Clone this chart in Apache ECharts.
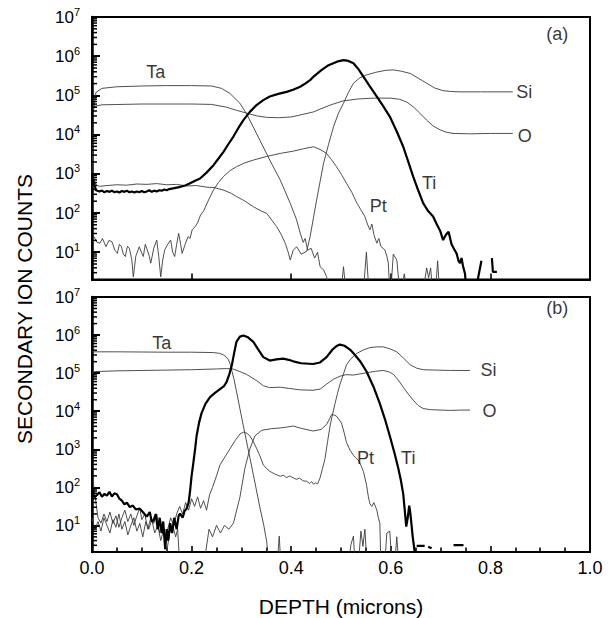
<!DOCTYPE html>
<html><head><meta charset="utf-8">
<script src="https://cdn.jsdelivr.net/npm/echarts@6/dist/echarts.min.js"></script>
<style>html,body{margin:0;padding:0;background:#fff}#c{width:616px;height:618px}</style>
</head><body><div id="c"></div>
<script>
// All curve data: [depth (microns), log10(secondary ion counts)].
// A value of 0 (1 count) lies below the axis floor (2 counts) and is clipped; null = gap.

// ---------- panel (a) ----------
const taA = [[0.000,3.0],[0.003,4.6],[0.008,5.08],[0.02,5.18],[0.05,5.22],[0.10,5.24],[0.15,5.25],[0.20,5.25],[0.24,5.24],[0.26,5.18],[0.277,5.05],[0.297,4.80],[0.31,4.54],[0.337,3.86],[0.357,3.35],[0.378,2.84],[0.398,2.25],[0.411,1.82],[0.418,1.49],[0.424,1.25],[0.428,1.35],[0.433,1.05],[0.44,1.1],[0.447,0.85],[0.453,1.0],[0.458,0.63],[0.465,0.55],[0.471,0.375],[0.476,0.1],[0.50,0],[0.505,0.63],[0.51,0],[0.545,0],[0.551,1.0],[0.556,0],[0.60,0],[0.605,0.95],[0.612,0.8],[0.618,0],[0.622,0],[0.627,0.45],[0.633,0],[0.665,0],[0.672,0.6],[0.676,0.35],[0.68,0.6],[0.684,0],[0.69,0],[0.694,0.78],[0.698,0]];
const oA = [[0.0,4.60],[0.005,4.72],[0.02,4.76],[0.1,4.78],[0.2,4.78],[0.24,4.77],[0.27,4.70],[0.29,4.62],[0.31,4.55],[0.33,4.48],[0.35,4.44],[0.375,4.43],[0.40,4.45],[0.418,4.50],[0.445,4.58],[0.458,4.65],[0.48,4.76],[0.504,4.86],[0.535,4.91],[0.565,4.93],[0.60,4.93],[0.618,4.90],[0.632,4.83],[0.645,4.71],[0.658,4.55],[0.672,4.37],[0.685,4.22],[0.699,4.12],[0.712,4.06],[0.725,4.03],[0.76,4.02],[0.80,4.03],[0.845,4.03]];
const siA = [[0.0,3.0],[0.004,2.85],[0.008,2.72],[0.015,2.68],[0.03,2.70],[0.05,2.72],[0.07,2.71],[0.09,2.74],[0.11,2.73],[0.13,2.75],[0.15,2.72],[0.17,2.73],[0.19,2.69],[0.21,2.70],[0.23,2.66],[0.245,2.65],[0.265,2.58],[0.28,2.50],[0.29,2.42],[0.305,2.32],[0.324,2.16],[0.34,2.05],[0.351,1.99],[0.362,1.80],[0.371,1.65],[0.38,1.45],[0.388,1.23],[0.394,1.0],[0.398,0.80],[0.404,1.05],[0.411,1.14],[0.42,0.95],[0.431,1.02],[0.438,1.40],[0.445,1.9],[0.451,2.33],[0.458,2.8],[0.465,3.27],[0.475,3.75],[0.485,4.20],[0.495,4.55],[0.505,4.80],[0.515,5.08],[0.525,5.31],[0.538,5.45],[0.551,5.52],[0.57,5.59],[0.59,5.64],[0.605,5.65],[0.62,5.62],[0.639,5.56],[0.655,5.44],[0.672,5.31],[0.688,5.19],[0.705,5.12],[0.72,5.10],[0.739,5.09],[0.78,5.09],[0.845,5.09]];
const ptA = [[0.004,1.40],[0.010,1.25],[0.016,1.23],[0.021,1.35],[0.028,1.14],[0.034,1.30],[0.040,1.27],[0.046,1.05],[0.051,0.97],[0.055,1.20],[0.059,1.14],[0.063,0.95],[0.067,0.89],[0.071,1.15],[0.075,1.10],[0.080,0.8],[0.083,0.37],[0.088,0.9],[0.095,1.14],[0.099,1.0],[0.103,0.89],[0.107,1.2],[0.111,1.06],[0.115,0.9],[0.118,0.72],[0.124,1.1],[0.130,1.31],[0.134,0.9],[0.138,0.37],[0.142,0.8],[0.146,1.06],[0.152,1.2],[0.158,1.31],[0.162,1.0],[0.166,0.89],[0.170,1.2],[0.174,1.48],[0.178,1.2],[0.181,0.97],[0.187,1.2],[0.193,1.40],[0.197,1.35],[0.201,1.57],[0.207,1.65],[0.212,1.75],[0.218,1.95],[0.224,2.05],[0.234,2.33],[0.244,2.59],[0.254,2.78],[0.264,2.93],[0.277,3.08],[0.29,3.18],[0.307,3.28],[0.324,3.35],[0.35,3.44],[0.378,3.52],[0.405,3.58],[0.425,3.64],[0.445,3.69],[0.458,3.62],[0.471,3.52],[0.481,3.36],[0.491,3.18],[0.501,2.98],[0.511,2.76],[0.522,2.52],[0.532,2.25],[0.540,2.08],[0.548,1.91],[0.553,1.72],[0.558,1.57],[0.562,1.72],[0.566,1.45],[0.572,1.23],[0.576,1.35],[0.58,1.15],[0.588,1.06],[0.592,0.9],[0.595,0.72],[0.598,0]];
const tiA = [[0.0,3.02],[0.004,2.75],[0.008,2.58],[0.015,2.55],[0.02,2.57],[0.025,2.53],[0.03,2.56],[0.035,2.54],[0.04,2.57],[0.045,2.53],[0.05,2.55],[0.055,2.52],[0.06,2.56],[0.065,2.54],[0.07,2.57],[0.075,2.53],[0.08,2.55],[0.085,2.52],[0.09,2.55],[0.095,2.53],[0.10,2.56],[0.105,2.53],[0.11,2.55],[0.115,2.58],[0.12,2.54],[0.125,2.57],[0.13,2.55],[0.135,2.58],[0.14,2.57],[0.145,2.60],[0.15,2.58],[0.155,2.61],[0.163,2.63],[0.175,2.66],[0.187,2.70],[0.197,2.76],[0.207,2.82],[0.217,2.88],[0.23,3.03],[0.244,3.22],[0.254,3.39],[0.264,3.56],[0.274,3.76],[0.284,3.95],[0.294,4.17],[0.304,4.37],[0.317,4.58],[0.331,4.76],[0.344,4.88],[0.357,4.97],[0.374,5.04],[0.391,5.09],[0.405,5.15],[0.418,5.22],[0.428,5.30],[0.438,5.39],[0.445,5.48],[0.46,5.64],[0.475,5.77],[0.492,5.86],[0.505,5.90],[0.515,5.88],[0.525,5.82],[0.535,5.67],[0.545,5.48],[0.558,5.23],[0.572,4.97],[0.585,4.72],[0.598,4.46],[0.612,4.08],[0.625,3.69],[0.635,3.31],[0.645,2.93],[0.655,2.58],[0.665,2.25],[0.675,2.05],[0.685,1.91],[0.692,1.72],[0.699,1.55],[0.705,1.31],[0.711,1.45],[0.716,1.52],[0.722,1.2],[0.727,1.08],[0.732,0.97],[0.736,0.78],[0.739,0.72],[0.742,0.85],[0.745,0.65],[0.749,0.45],[0.752,0],[0.770,0],[0.782,0.78],[0.783,null],[0.803,0.85],[0.805,0.50],[0.813,0.50]];

// ---------- panel (b) ----------
const taB = [[0.0,5.56],[0.05,5.56],[0.10,5.555],[0.15,5.55],[0.20,5.55],[0.244,5.54],[0.256,5.52],[0.264,5.48],[0.27,5.42],[0.274,5.35],[0.278,5.22],[0.281,5.05],[0.285,4.85],[0.304,3.61],[0.324,2.33],[0.337,1.48],[0.345,1.0],[0.351,0.55],[0.355,0],[0.372,0],[0.376,0.72],[0.379,0]];
const oB = [[0.0,4.97],[0.005,5.04],[0.05,5.06],[0.10,5.07],[0.15,5.08],[0.20,5.09],[0.25,5.11],[0.27,5.12],[0.283,5.11],[0.297,5.04],[0.31,4.97],[0.331,4.80],[0.344,4.67],[0.356,4.62],[0.378,4.63],[0.395,4.60],[0.418,4.56],[0.444,4.55],[0.458,4.58],[0.471,4.71],[0.485,4.84],[0.498,4.92],[0.51,4.96],[0.525,4.95],[0.551,5.01],[0.57,5.05],[0.585,5.07],[0.597,5.03],[0.605,4.97],[0.615,4.82],[0.625,4.63],[0.635,4.45],[0.645,4.29],[0.655,4.15],[0.665,4.07],[0.68,4.04],[0.699,4.03],[0.72,4.02],[0.74,4.03],[0.759,4.03]];
const siB = [[0.003,2.08],[0.008,1.6],[0.012,1.2],[0.018,1.06],[0.024,1.3],[0.03,1.1],[0.036,1.35],[0.042,1.05],[0.048,1.25],[0.054,0.95],[0.06,1.2],[0.066,1.4],[0.072,1.1],[0.078,1.3],[0.084,1.0],[0.09,1.25],[0.096,1.45],[0.10,1.15],[0.106,1.3],[0.112,0.9],[0.118,1.2],[0.124,1.05],[0.13,1.3],[0.136,0.8],[0.142,1.1],[0.148,0.6],[0.152,0.9],[0.158,1.2],[0.164,1.0],[0.17,1.3],[0.176,1.5],[0.182,1.3],[0.188,1.6],[0.194,1.4],[0.2,1.7],[0.206,1.5],[0.212,1.75],[0.218,1.45],[0.224,1.65],[0.23,1.4],[0.236,1.8],[0.242,2.0],[0.25,2.3],[0.257,2.59],[0.267,2.8],[0.277,3.01],[0.287,3.22],[0.297,3.40],[0.304,3.45],[0.311,3.42],[0.317,3.35],[0.324,3.2],[0.331,3.01],[0.338,2.8],[0.344,2.59],[0.35,2.5],[0.357,2.42],[0.367,2.35],[0.378,2.29],[0.385,2.32],[0.39,2.25],[0.397,2.3],[0.404,2.25],[0.41,2.21],[0.417,2.24],[0.424,2.17],[0.431,2.16],[0.437,2.10],[0.441,2.15],[0.445,2.08],[0.449,2.12],[0.453,2.09],[0.458,2.25],[0.463,2.5],[0.468,2.76],[0.473,3.2],[0.478,3.61],[0.483,3.92],[0.488,4.20],[0.493,4.47],[0.498,4.71],[0.505,4.98],[0.511,5.22],[0.52,5.38],[0.532,5.52],[0.545,5.61],[0.558,5.67],[0.572,5.69],[0.585,5.69],[0.598,5.64],[0.612,5.56],[0.625,5.40],[0.639,5.22],[0.652,5.13],[0.665,5.09],[0.69,5.08],[0.72,5.07],[0.759,5.07]];
const ptB = [[0.0,1.2],[0.006,0.9],[0.012,1.1],[0.018,0.85],[0.024,1.2],[0.03,1.0],[0.036,0.8],[0.042,1.15],[0.048,0.95],[0.054,1.3],[0.06,0.9],[0.066,1.1],[0.072,0.75],[0.078,1.0],[0.084,1.2],[0.09,0.85],[0.096,1.05],[0.102,0.7],[0.108,1.1],[0.114,0.9],[0.12,1.15],[0.126,0.8],[0.132,1.0],[0.138,0.6],[0.144,0.9],[0.15,0.3],[0.156,0.8],[0.162,1.0],[0.168,0.7],[0.172,0.9],[0.176,0],[0.225,0],[0.235,0.9],[0.242,0.7],[0.25,1.0],[0.258,0.8],[0.266,1.0],[0.275,0.9],[0.284,1.06],[0.297,1.74],[0.307,2.50],[0.317,3.01],[0.327,3.35],[0.341,3.50],[0.36,3.54],[0.378,3.56],[0.39,3.58],[0.404,3.61],[0.42,3.55],[0.444,3.48],[0.46,3.52],[0.471,3.65],[0.477,3.80],[0.481,3.91],[0.486,3.90],[0.491,3.87],[0.501,3.69],[0.506,3.45],[0.511,3.18],[0.518,2.98],[0.525,2.84],[0.535,2.71],[0.54,2.58],[0.545,2.42],[0.551,2.08],[0.555,1.75],[0.558,1.57],[0.562,1.5],[0.566,1.6],[0.572,1.40],[0.575,1.2],[0.578,1.06],[0.58,0]];
const tiB = [[0.0,1.91],[0.005,1.74],[0.01,1.80],[0.015,1.87],[0.02,1.75],[0.025,1.83],[0.03,1.78],[0.035,1.88],[0.04,1.76],[0.045,1.84],[0.05,1.82],[0.055,1.70],[0.06,1.65],[0.065,1.55],[0.07,1.60],[0.076,1.48],[0.082,1.52],[0.088,1.42],[0.096,1.44],[0.102,1.35],[0.11,1.23],[0.116,1.35],[0.12,1.1],[0.124,1.14],[0.128,1.3],[0.132,0.9],[0.136,1.2],[0.14,0.8],[0.143,1.1],[0.147,0.375],[0.15,0.9],[0.153,0.6],[0.157,1.06],[0.161,0.8],[0.165,1.2],[0.17,0.9],[0.174,1.25],[0.177,1.31],[0.182,1.2],[0.186,1.38],[0.19,1.44],[0.194,1.6],[0.197,1.91],[0.2,2.3],[0.203,2.59],[0.207,3.0],[0.21,3.35],[0.215,3.7],[0.22,3.95],[0.228,4.2],[0.237,4.37],[0.247,4.48],[0.257,4.58],[0.265,4.66],[0.27,4.76],[0.276,4.98],[0.281,5.22],[0.285,5.5],[0.29,5.82],[0.297,5.96],[0.304,5.99],[0.312,5.95],[0.324,5.82],[0.334,5.62],[0.344,5.42],[0.357,5.33],[0.37,5.36],[0.384,5.38],[0.395,5.35],[0.404,5.31],[0.42,5.26],[0.444,5.24],[0.458,5.28],[0.471,5.42],[0.483,5.62],[0.491,5.71],[0.498,5.75],[0.507,5.72],[0.518,5.62],[0.525,5.52],[0.538,5.32],[0.551,5.05],[0.565,4.65],[0.578,4.20],[0.588,3.80],[0.598,3.35],[0.607,2.92],[0.615,2.50],[0.62,2.2],[0.625,1.82],[0.628,1.4],[0.631,0.97],[0.634,1.2],[0.637,1.52],[0.639,1.35],[0.641,1.1],[0.644,0.7],[0.649,0.2],[0.650,null],[0.652,0.46],[0.668,0.46],[0.669,null],[0.675,0.44],[0.682,0.40],[0.683,null],[0.726,0.48],[0.746,0.48]];
const nzB = [[0.515,0],[0.52,0.5],[0.525,0.72],[0.528,0],[0.535,0],[0.54,0.85],[0.544,0.45],[0.548,0.9],[0.552,0],[0.588,0],[0.592,0.8],[0.598,0.85],[0.602,0],[0.608,0],[0.612,0.7],[0.616,0]];

// curve labels: [text, depth, log10(counts)]
const labelsA = [['Ta',0.128,5.60],['Si',0.868,5.09],['O',0.869,3.97],['Ti',0.677,2.76],['Pt',0.575,2.18],['(a)',0.934,6.57]];
const labelsB = [['Ta',0.14,5.79],['Si',0.796,5.07],['O',0.798,4.00],['Pt',0.549,2.76],['Ti',0.635,2.78],['(b)',0.934,6.71]];

// axes
const yMin = 2, yMax = 1e7;
const minorMantissas = [2,3,4,5,6,7,8,9];
const minorDecades = [0,1,2,3,4,5,6];
const xTickLabelEvery = 0.2;

const FONT = 'Liberation Sans, Arial, Helvetica, sans-serif';
const conv = arr => arr.map(([x, e]) => [x, e === null ? '-' : Math.pow(10, e)]);
const minorVals = [];
minorDecades.forEach(d => minorMantissas.forEach(m => { const v = m * Math.pow(10, d); if (v > yMin && v < yMax) minorVals.push([0, v]); }));

const grids = [
  {left: 92, right: 26, top: 17, height: 262.6, show: true, borderColor: '#000', borderWidth: 2, backgroundColor: 'transparent'},
  {left: 92, right: 26, top: 297, height: 262.6, show: true, borderColor: '#000', borderWidth: 2, backgroundColor: 'transparent'}
];

function xAxis(gi, showLabels) {
  return {
    type: 'value', gridIndex: gi, min: 0, max: 1, interval: xTickLabelEvery, position: 'bottom',
    axisLine: {show: true, lineStyle: {color: '#000', width: 2.2}},
    axisTick: {show: true, inside: true, length: 6, lineStyle: {color: '#000', width: 1.6}},
    minorTick: {show: showLabels, splitNumber: 4, length: 4.5, lineStyle: {color: '#000', width: 1.6}},
    axisLabel: {show: showLabels, formatter: v => v.toFixed(1), fontSize: 18, color: '#000', margin: 7, fontFamily: FONT},
    splitLine: {show: false}, minorSplitLine: {show: false},
    name: showLabels ? 'DEPTH (microns)' : '', nameLocation: 'middle', nameGap: 44,
    nameTextStyle: {fontSize: 21, color: '#000', fontFamily: FONT}
  };
}
function yAxisMain(gi) {
  return {
    type: 'log', logBase: 10, gridIndex: gi, min: yMin, max: yMax, splitNumber: 7, position: 'left',
    axisLine: {show: true, lineStyle: {color: '#000', width: 2.5}},
    axisTick: {show: true, inside: true, length: 8, lineStyle: {color: '#000', width: 2}},
    axisLabel: {
      showMinLabel: false, margin: 12, verticalAlign: 'middle', color: '#000',
      formatter: v => '{b|10}{s|' + Math.round(Math.log10(v)) + '}',
      rich: {b: {fontSize: 17, lineHeight: 22, fontFamily: FONT, color: '#000', verticalAlign: 'middle'},
             s: {fontSize: 11, lineHeight: 11, fontFamily: FONT, color: '#000', verticalAlign: 'top'}}
    },
    splitLine: {show: false}
  };
}

function line(name, data, gi, bold) {
  return {
    name, type: 'line', xAxisIndex: gi, yAxisIndex: gi, data: conv(data),
    symbol: 'none', clip: true, connectNulls: false, silent: true,
    lineStyle: {color: bold ? '#000' : '#3c3c3c', width: bold ? 2.2 : 0.9}, z: bold ? 3 : 2
  };
}
function labels(list, gi) {
  return {
    type: 'scatter', xAxisIndex: gi, yAxisIndex: gi, symbolSize: 1, silent: true,
    itemStyle: {color: 'rgba(0,0,0,0)'},
    data: list.map(([t, x, e]) => ({name: t, value: [x, Math.pow(10, e)]})),
    label: {show: true, position: 'inside', formatter: p => p.name, fontSize: 18, color: '#000', fontFamily: FONT}
  };
}
// log-scale minor ticks (2..9 × 10^n) on the left axis, positioned through the axis scale
function minorTicks(gi) {
  return {
    type: 'custom', xAxisIndex: gi, yAxisIndex: gi, silent: true, clip: false, z: 5,
    data: minorVals,
    renderItem: (params, api) => {
      const p = api.coord([api.value(0), api.value(1)]);
      return {type: 'line', shape: {x1: p[0], y1: p[1], x2: p[0] + 5, y2: p[1]}, style: {stroke: '#000', lineWidth: 1.5}};
    }
  };
}

const chart = echarts.init(document.getElementById('c'), null, {renderer: 'svg'});
chart.setOption({
  animation: false,
  backgroundColor: '#fff',
  textStyle: {fontFamily: FONT},
  grid: grids,
  xAxis: [xAxis(0, false), xAxis(1, true)],
  yAxis: [yAxisMain(0), yAxisMain(1)],
  graphic: [{
    type: 'text', x: 24, y: 309, rotation: Math.PI / 2,
    style: {text: 'SECONDARY ION COUNTS', fontSize: 21, fontFamily: FONT, fill: '#000', textAlign: 'center', textVerticalAlign: 'middle'}
  }],
  series: [
    line('Ta', taA, 0), line('O', oA, 0), line('Si', siA, 0), line('Pt', ptA, 0), line('Ti', tiA, 0, true),
    line('Ta', taB, 1), line('O', oB, 1), line('Si', siB, 1), line('Pt', ptB, 1), line('Ti', tiB, 1, true), line('noise', nzB, 1),
    labels(labelsA, 0), labels(labelsB, 1), minorTicks(0), minorTicks(1)
  ]
});
</script></body></html>
